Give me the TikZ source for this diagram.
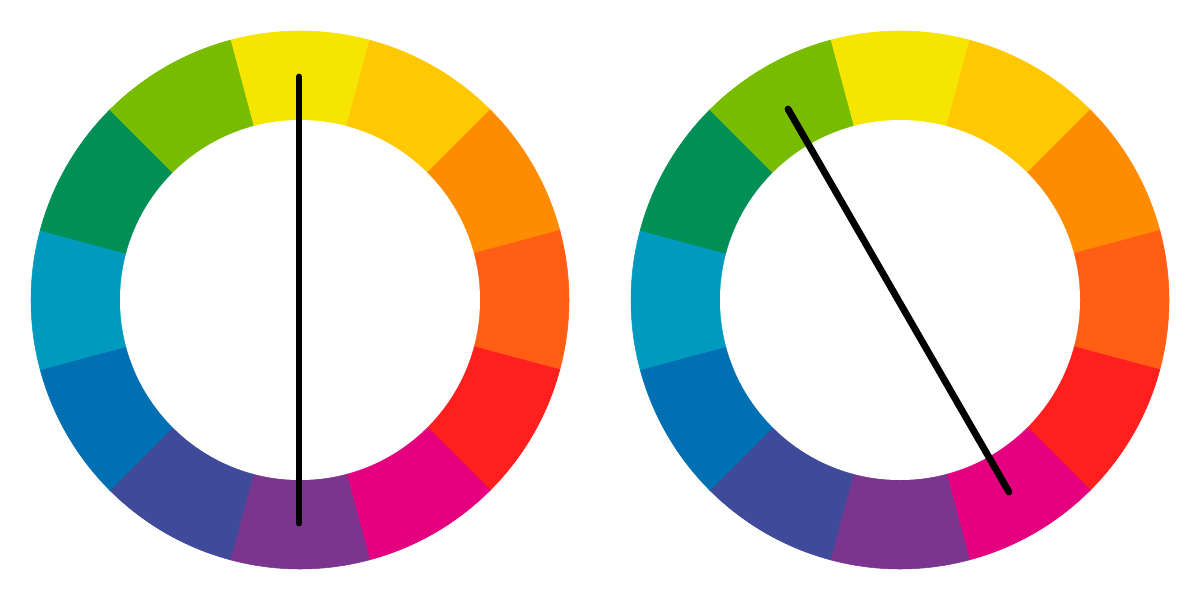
\documentclass[tikz,border=0pt]{standalone}
\definecolor{cY}{HTML}{F6E500}
\definecolor{cYO}{HTML}{FFC800}
\definecolor{cO}{HTML}{FF8C00}
\definecolor{cRO}{HTML}{FF5E14}
\definecolor{cR}{HTML}{FF1F1F}
\definecolor{cM}{HTML}{E4007F}
\definecolor{cP}{HTML}{7B358E}
\definecolor{cBV}{HTML}{3F4A9B}
\definecolor{cB}{HTML}{0070B3}
\definecolor{cC}{HTML}{009ABF}
\definecolor{cG}{HTML}{009056}
\definecolor{cYG}{HTML}{78BC00}
\tikzset{
  chord/.style={line width=3.9pt, line cap=round, black},
  hole/.style={fill=white}
}
\begin{document}
\begin{tikzpicture}[x=0.02cm,y=0.02cm]
\useasboundingbox (0,0) rectangle (1200,600);
\fill[white] (0,0) rectangle (1200,600);
\coordinate (CL) at (300,300);
\coordinate (CR) at (900,300);
\foreach \c in {CL,CR}{
  \foreach \col [count=\i from 0] in {cY,cYO,cO,cRO,cR,cM,cP,cBV,cB,cC,cG,cYG}{
    \pgfmathsetmacro{\aS}{105-30*\i}
    \pgfmathsetmacro{\aE}{75-30*\i}
    \fill[\col, draw=\col, line width=0.3pt] (\c) -- ++(\aS:269) arc[start angle=\aS, end angle=\aE, radius=269] -- cycle;
  }
  \fill[hole] (\c) circle[radius=180];
}
\coordinate (L1) at (299,523);
\coordinate (L2) at (299,77);
\coordinate (R1) at (788,491);
\coordinate (R2) at (1009,108);
\draw[chord] (L1) -- (L2);
\draw[chord] (R1) -- (R2);
\end{tikzpicture}
\end{document}
